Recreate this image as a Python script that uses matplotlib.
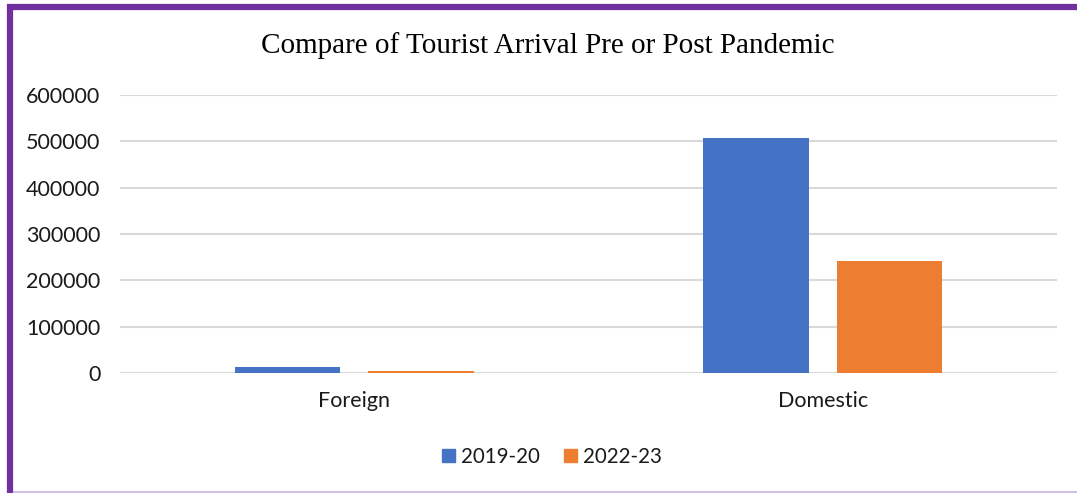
import matplotlib
matplotlib.use("Agg")
import matplotlib.pyplot as plt
from matplotlib.lines import Line2D
import numpy as np

categories = ["Foreign", "Domestic"]
series_names = ["2019-20", "2022-23"]
values_2019 = [14000, 508000]
values_2022 = [5000, 242000]
yticks = [0, 100000, 200000, 300000, 400000, 500000, 600000]
colors = ["#4472C4", "#ED7D31"]

W, H = 1077, 493
fig = plt.figure(figsize=(W / 100, H / 100), dpi=100)
ax = fig.add_axes([120 / W, (H - 373) / H, (1057 - 120) / W, (373 - 95) / H])

x = np.arange(len(categories))
bw = 0.225
off = 0.1425
ax.bar(x - off, values_2019, bw, color=colors[0], label=series_names[0], zorder=3)
ax.bar(x + off, values_2022, bw, color=colors[1], label=series_names[1], zorder=3)

ax.set_xlim(-0.5, 1.5)
ax.set_ylim(0, 600000)
ax.set_yticks(yticks)
ax.set_yticklabels([str(v) for v in yticks])
ax.set_xticks(x)
ax.set_xticklabels(categories)
ax.yaxis.grid(True, color="#d9d9d9", linewidth=1.5, zorder=0)
for s in ["top", "right", "left", "bottom"]:
    ax.spines[s].set_visible(False)
ax.tick_params(axis="both", length=0, labelsize=15.5, labelcolor="#1a1a1a")
ax.tick_params(axis="y", pad=14)
ax.tick_params(axis="x", pad=13)
for lab in ax.get_xticklabels() + ax.get_yticklabels():
    lab.set_fontfamily("Lato")

fig.text(548 / W, (H - 46) / H, "Compare of Tourist Arrival Pre or Post Pandemic",
         ha="center", va="center", fontsize=21, family="Liberation Serif", color="#000000")

handles = [plt.Rectangle((0, 0), 1, 1, color=c) for c in colors]
leg = fig.legend(handles, series_names, loc="center", bbox_to_anchor=(552 / W, (H - 457) / H),
                 ncol=2, frameon=False, handlelength=0.62, handleheight=0.62, handletextpad=0.3,
                 columnspacing=1.2, prop={"family": "Lato", "size": 14.8})
for t in leg.get_texts():
    t.set_color("#1a1a1a")

# decorative frame
fig.add_artist(Line2D([7 / W, 1], [(H - 7) / H, (H - 7) / H], transform=fig.transFigure,
                      color="#7030A0", linewidth=4.5, solid_capstyle="butt"))
fig.add_artist(Line2D([10 / W, 10 / W], [0, (H - 4) / H], transform=fig.transFigure,
                      color="#7030A0", linewidth=4.5, solid_capstyle="butt"))
fig.add_artist(Line2D([13 / W, 1], [1 / H, 1 / H], transform=fig.transFigure,
                      color="#c9b3e0", linewidth=1.2, solid_capstyle="butt"))

fig.savefig("out.png", dpi=100)
